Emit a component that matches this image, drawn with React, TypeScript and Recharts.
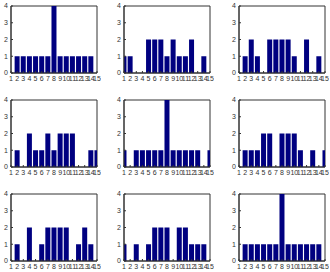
import { BarChart, Bar, XAxis, YAxis, ReferenceArea } from 'recharts'

const bins = [1, 2, 3, 4, 5, 6, 7, 8, 9, 10, 11, 12, 13, 14, 15]
const yTicks = [0, 1, 2, 3, 4]

const counts1 = [0, 1, 1, 1, 1, 1, 1, 4, 1, 1, 1, 1, 1, 1, 0]
const counts2 = [1, 1, 0, 0, 2, 2, 2, 1, 2, 1, 1, 2, 0, 1, 0]
const counts3 = [0, 1, 2, 1, 0, 2, 2, 2, 2, 1, 0, 2, 0, 1, 0]
const counts4 = [0, 1, 0, 2, 1, 1, 2, 1, 2, 2, 2, 0, 0, 1, 1]
const counts5 = [1, 0, 1, 1, 1, 1, 1, 4, 1, 1, 1, 1, 1, 0, 1]
const counts6 = [0, 1, 1, 1, 2, 2, 0, 2, 2, 2, 1, 0, 1, 0, 1]
const counts7 = [0, 1, 0, 2, 0, 1, 2, 2, 2, 2, 0, 1, 2, 1, 0]
const counts8 = [1, 0, 1, 0, 1, 2, 2, 2, 0, 2, 2, 1, 1, 1, 0]
const counts9 = [0, 1, 1, 1, 1, 1, 1, 4, 1, 1, 1, 1, 1, 1, 0]

const panels = [counts1, counts2, counts3, counts4, counts5, counts6, counts7, counts8, counts9]

const colLeft = [11, 124, 239]
const rowTop = [6, 100, 194]
const plotW = 86
const plotH = 67

const axisColor = '#333'
const tickFont = { fill: '#333', fontSize: 7, fontFamily: 'Liberation Sans, Arial, sans-serif' }

function Panel({ counts }: { counts: number[] }) {
  const data = bins.map((b, i) => ({ x: b, y: counts[i] }))
  return (
    <BarChart
      width={12 + plotW + 4}
      height={4 + plotH + 14}
      data={data}
      margin={{ top: 4, right: 4, left: 0, bottom: 0 }}
      barCategoryGap="9%"
    >
      <XAxis
        dataKey="x"
        type="number"
        domain={[1, 15]}
        ticks={bins}
        interval={0}
        allowDataOverflow
        height={14}
        tickSize={-2}
        tickMargin={5}
        stroke={axisColor}
        tick={tickFont}
      />
      <YAxis
        type="number"
        domain={[0, 4]}
        ticks={yTicks}
        interval={0}
        width={12}
        tickSize={-2}
        tickMargin={5}
        stroke={axisColor}
        tick={tickFont}
      />
      {/* box around the plot, like matlab's "box on" */}
      <ReferenceArea x1={1} x2={15} y1={0} y2={4} fill="none" stroke={axisColor} strokeWidth={1} />
      <Bar dataKey="y" fill="#000080" isAnimationActive={false} />
    </BarChart>
  )
}

export default function App() {
  return (
    <div style={{ position: 'absolute', left: 0, top: 0, width: 330, height: 272, background: '#fff' }}>
      {panels.map((counts, i) => (
        <div
          key={i}
          style={{
            position: 'absolute',
            left: colLeft[i % 3] - 12,
            top: rowTop[Math.floor(i / 3)] - 4,
          }}
        >
          <Panel counts={counts} />
        </div>
      ))}
    </div>
  )
}
